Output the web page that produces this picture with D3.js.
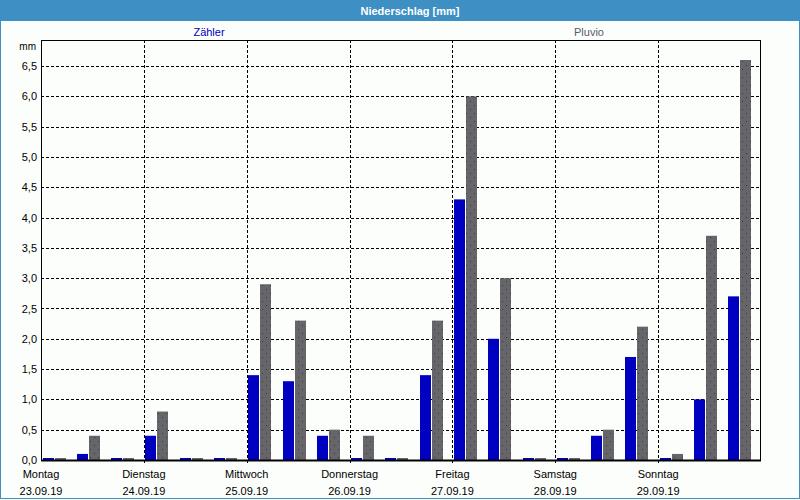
<!DOCTYPE html>
<html><head><meta charset="utf-8">
<script src="https://cdn.jsdelivr.net/npm/d3@7"></script>
<style>
html,body{margin:0;padding:0;background:#fff;}
svg{display:block;font-family:"Liberation Sans",Arial,sans-serif;}
</style></head>
<body>
<svg id="chart" width="800" height="500"></svg>
<script>
const title = "Niederschlag [mm]";
const seriesNames = ["Zähler", "Pluvio"];
const dayNames = ["Montag","Dienstag","Mittwoch","Donnerstag","Freitag","Samstag","Sonntag"];
const dayDates = ["23.09.19","24.09.19","25.09.19","26.09.19","27.09.19","28.09.19","29.09.19"];
// 3 periods per day (8 h each), 21 periods
const zaehler = [0,0.1,0, 0.4,0,0, 1.4,1.3,0.4, 0,0,1.4, 4.3,2.0,0, 0,0.4,1.7, 0,1.0,2.7];
const pluvio  = [0,0.4,0, 0.8,0,0, 2.9,2.3,0.5, 0.4,0,2.3, 6.0,3.0,0, 0,0.5,2.2, 0.1,3.7,6.6];
const yTicks = [0,0.5,1,1.5,2,2.5,3,3.5,4,4.5,5,5.5,6,6.5];

const svg = d3.select("#chart");
const W = 800, H = 500;
const L = 41, R = 761, T = 40, B = 460;

svg.append("rect").attr("x",0).attr("y",0).attr("width",W).attr("height",H).attr("fill","#fcfefc");
svg.append("rect").attr("x",0.5).attr("y",0.5).attr("width",W-1).attr("height",H-2)
  .attr("fill","none").attr("stroke","#3d8fc4").attr("stroke-width",1);
svg.append("rect").attr("x",0).attr("y",0).attr("width",W).attr("height",21).attr("fill","#3d8fc4");
svg.append("text").attr("x",410).attr("y",15).attr("text-anchor","middle")
  .attr("fill","#fff").attr("font-weight","bold").attr("font-size",11).text(title);

const defs = svg.append("defs");
const pat = defs.append("pattern").attr("id","dots").attr("patternUnits","userSpaceOnUse")
  .attr("width",8).attr("height",8);
pat.append("rect").attr("width",8).attr("height",8).attr("fill","#666569");
pat.append("rect").attr("x",2).attr("y",1).attr("width",1).attr("height",1).attr("fill","#38383c");
pat.append("rect").attr("x",6).attr("y",5).attr("width",1).attr("height",1).attr("fill","#38383c");

const nPeriods = zaehler.length;
const x = d3.scaleLinear().domain([0, nPeriods]).range([L, R]);
const y = d3.scaleLinear().domain([0, 6.93]).range([B, T]);

const g = svg.append("g");
g.selectAll("line.h").data(yTicks.filter(d=>d>0)).join("line")
  .attr("x1",L).attr("x2",R).attr("y1",d=>Math.round(y(d))+0.5).attr("y2",d=>Math.round(y(d))+0.5)
  .attr("stroke","#000").attr("stroke-dasharray","3,2");
g.selectAll("line.v").data(d3.range(1,7)).join("line")
  .attr("x1",d=>Math.round(x(d*3))+0.5).attr("x2",d=>Math.round(x(d*3))+0.5)
  .attr("y1",T).attr("y2",B+4)
  .attr("stroke","#000").attr("stroke-dasharray","3,2");

const minH = 2;
svg.append("g").selectAll("rect").data(zaehler).join("rect")
  .attr("x",(d,i)=>Math.round(x(i)+1.5)).attr("width",11)
  .attr("y",d=>Math.min(y(d), B-minH)).attr("height",d=>Math.max(B-y(d), minH))
  .attr("fill","#0000c0");
svg.append("g").selectAll("rect").data(pluvio).join("rect")
  .attr("x",(d,i)=>Math.round(x(i)+13.5)).attr("width",11)
  .attr("y",d=>Math.min(y(d), B-minH)).attr("height",d=>Math.max(B-y(d), minH))
  .attr("fill","url(#dots)");

svg.append("rect").attr("x",L+0.5).attr("y",T+0.5).attr("width",R-L-1).attr("height",B-T)
  .attr("fill","none").attr("stroke","#000");
svg.append("line").attr("x1",L).attr("x2",R).attr("y1",B+0.5).attr("y2",B+0.5).attr("stroke","#000").attr("stroke-width",2);

const yAxis = d3.axisLeft(y).tickValues(yTicks).tickSize(0).tickPadding(4)
  .tickFormat(d=>d3.format(".1f")(d).replace(".",","));
const ya = svg.append("g").attr("transform",`translate(${L},0)`).call(yAxis);
ya.select(".domain").remove();
ya.selectAll("text").attr("font-size",11).attr("fill","#000").attr("font-family","Liberation Sans, Arial, sans-serif");
svg.append("text").attr("x",36).attr("y",50).attr("text-anchor","end").attr("font-size",10).text("mm");

const xl = svg.append("g");
xl.selectAll("text.d").data(dayNames).join("text")
  .attr("x",(d,i)=>x(i*3)).attr("y",478).attr("text-anchor","middle").attr("font-size",11).text(d=>d);
xl.selectAll("text.t").data(dayDates).join("text")
  .attr("x",(d,i)=>x(i*3)).attr("y",495).attr("text-anchor","middle").attr("font-size",11).text(d=>d);

svg.append("text").attr("x",209).attr("y",36).attr("text-anchor","middle").attr("font-size",11)
  .attr("fill","#0000c0").text(seriesNames[0]);
svg.append("text").attr("x",589).attr("y",36).attr("text-anchor","middle").attr("font-size",11)
  .attr("fill","#5a5a6a").text(seriesNames[1]);
</script>
</body></html>
